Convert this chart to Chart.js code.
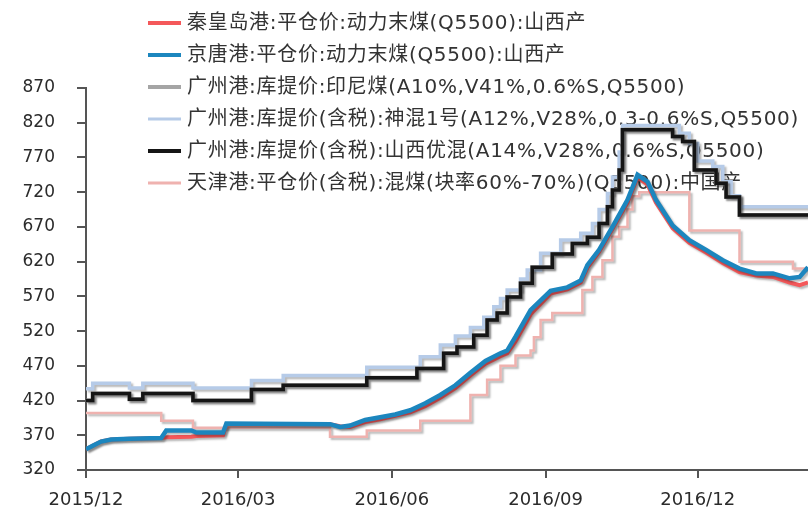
<!DOCTYPE html>
<html><head><meta charset="utf-8">
<script src="https://cdn.jsdelivr.net/npm/chart.js@4/dist/chart.umd.min.js"></script>
<style>html,body{margin:0;padding:0;background:#fff}#wrap{width:808px;height:516px}</style>
</head><body><div id="wrap"><canvas id="c" width="808" height="516"></canvas></div>
<script>
// ---------------- data ----------------
const seriesNames = [
  '秦皇岛港:平仓价:动力末煤(Q5500):山西产',
  '京唐港:平仓价:动力末煤(Q5500):山西产',
  '广州港:库提价:印尼煤(A10%,V41%,0.6%S,Q5500)',
  '广州港:库提价(含税):神混1号(A12%,V28%,0.3-0.6%S,Q5500)',
  '广州港:库提价(含税):山西优混(A14%,V28%,0.6%S,Q5500)',
  '天津港:平仓价(含税):混煤(块率60%-70%)(Q5500):中国产'
];
const xTickDates = ['2015-12-01','2016-03-01','2016-06-01','2016-09-01','2016-12-01'];
const xTickLabels = ['2015/12','2016/03','2016/06','2016/09','2016/12'];
const xStart = '2015-12-01';
const xEnd = '2017-02-05';

// 秦皇岛港 / 京唐港 (weekly observations)
const portDates = ['2015-12-01','2015-12-05','2015-12-10','2015-12-16','2015-12-27','2016-01-15','2016-01-18','2016-02-02','2016-02-05','2016-02-21','2016-02-23','2016-04-25','2016-05-01','2016-05-07','2016-05-16','2016-05-25','2016-06-03','2016-06-12','2016-06-21','2016-06-30','2016-07-09','2016-07-18','2016-07-27','2016-08-05','2016-08-09','2016-08-14','2016-08-23','2016-09-04','2016-09-14','2016-09-22','2016-09-26','2016-10-03','2016-10-11','2016-10-20','2016-10-26','2016-11-01','2016-11-06','2016-11-16','2016-11-26','2016-12-06','2016-12-16','2016-12-26','2017-01-05','2017-01-15','2017-01-25','2017-01-31','2017-02-05'];
const qhdValues = [350,355,361,364,365,366,367,368,369,370,386,386,383,382,389,393,398,403,412,424,438,456,473,484,488,505,544,574,580,590,611,634,667,705,741,731,705,668,647,633,618,605,600,598,590,586,590];
const jtValues  = [350,355,361,364,365,366,377,377,374,374,387,386,382,384,392,396,400,406,416,428,442,460,477,488,492,512,550,578,583,593,615,637,670,709,745,735,709,672,651,637,622,610,603,603,596,598,612];

// 广州港 山西优混 / 印尼煤 (price change dates)
const sxDates = ['2015-12-01','2015-12-05','2015-12-27','2016-01-04','2016-02-03','2016-03-09','2016-03-28','2016-05-17','2016-06-16','2016-07-02','2016-07-10','2016-07-20','2016-07-28','2016-08-03','2016-08-09','2016-08-17','2016-08-24','2016-09-05','2016-09-17','2016-09-26','2016-10-03','2016-10-08','2016-10-11','2016-10-15','2016-10-17','2016-11-16','2016-11-22','2016-11-29','2016-12-12','2016-12-18','2016-12-26','2017-02-05'];
const sxValues   = [420,430,422,430,420,436,442,453,466,488,497,514,536,546,569,589,612,631,646,655,675,699,723,752,810,800,793,752,733,713,687,687];
const indoValues = [420,430,422,430,420,436,442,453,466,488,497,514,536,546,569,589,612,631,646,655,675,699,723,752,810,800,793,752,733,713,687,687];

// 广州港 神混1号
const shDates = ['2015-12-01','2015-12-05','2015-12-27','2016-01-04','2016-02-03','2016-03-09','2016-03-28','2016-05-17','2016-06-18','2016-06-30','2016-07-09','2016-07-18','2016-07-26','2016-08-01','2016-08-05','2016-08-09','2016-08-17','2016-08-21','2016-08-29','2016-09-10','2016-09-22','2016-09-29','2016-10-03','2016-10-08','2016-10-11','2016-10-15','2016-10-17','2016-11-20','2016-11-26','2016-12-01','2016-12-10','2016-12-16','2016-12-21','2016-12-26','2017-02-05'];
const shValues = [437,445,438,445,438,449,456,468,483,500,513,525,540,555,567,579,595,608,632,651,661,675,695,718,742,778,816,805,790,765,757,735,715,699,699];

// 天津港 混煤
const tjDates = ['2015-12-01','2016-01-15','2016-02-03','2016-04-25','2016-05-17','2016-06-18','2016-07-18','2016-07-28','2016-08-05','2016-08-14','2016-08-23','2016-08-25','2016-08-29','2016-09-05','2016-09-23','2016-09-29','2016-10-05','2016-10-11','2016-10-15','2016-10-20','2016-10-23','2016-10-27','2016-11-26','2016-12-26','2017-01-27','2017-02-05'];
const tjValues = [402,391,381,368,377,391,428,450,470,485,492,511,536,546,579,598,622,656,670,695,714,720,665,620,610,610];

// ---------------- helpers ----------------
const DAY0 = Date.UTC(2015, 11, 1);
function toDay(s){ const [y,m,d]=s.split('-').map(Number); return (Date.UTC(y,m-1,d)-DAY0)/86400000; }
function pts(dates, vals){ return dates.map((d,i)=>({x:toDay(d), y:vals[i]})); }

const overlayLegend = {
  id:'overlayLegend',
  beforeDatasetsDraw(chart){
    const ctx = chart.ctx;
    ctx.save();
    ctx.font = '20px "DejaVu Sans", "Noto Sans CJK SC", sans-serif';
    ctx.textBaseline = 'middle';
    ctx.textAlign = 'left';
    if ('letterSpacing' in ctx) ctx.letterSpacing = '0.7px';
    chart.data.datasets.forEach((ds,i)=>{
      const y = 23 + i*32;
      ctx.strokeStyle = ds.borderColor;
      ctx.lineWidth = ds.legendWidth;
      ctx.beginPath(); ctx.moveTo(148,y); ctx.lineTo(181,y); ctx.stroke();
      ctx.fillStyle = '#333333';
      ctx.fillText(ds.label, 187, y+1);
    });
    ctx.restore();
  }
};
const lineShadow = {
  id:'lineShadow',
  beforeDatasetDraw(chart){
    const c = chart.ctx; c.save();
    c.shadowColor='rgba(0,0,0,0.28)'; c.shadowOffsetX=2; c.shadowOffsetY=2; c.shadowBlur=2;
  },
  afterDatasetDraw(chart){ chart.ctx.restore(); }
};

const base = {pointRadius:0, pointHoverRadius:0, tension:0, fill:false};
new Chart(document.getElementById('c'), {
  type:'line',
  data:{ datasets:[
    Object.assign({label:seriesNames[0], data:pts(portDates,qhdValues), borderColor:'#F4585A', borderWidth:4, legendWidth:4, order:2}, base),
    Object.assign({label:seriesNames[1], data:pts(portDates,jtValues), borderColor:'#1C86BE', borderWidth:4.5, legendWidth:4, order:1}, base),
    Object.assign({label:seriesNames[2], data:pts(sxDates,indoValues), borderColor:'#A5A5A5', borderWidth:4, legendWidth:4, order:4, stepped:'before'}, base),
    Object.assign({label:seriesNames[3], data:pts(shDates,shValues), borderColor:'#B6CBE8', borderWidth:3.5, legendWidth:3, order:5, stepped:'before'}, base),
    Object.assign({label:seriesNames[4], data:pts(sxDates,sxValues), borderColor:'#151515', borderWidth:3.5, legendWidth:4, order:3, stepped:'before'}, base),
    Object.assign({label:seriesNames[5], data:pts(tjDates,tjValues), borderColor:'#EFB2AF', borderWidth:2.5, legendWidth:3, order:6, stepped:'before'}, base)
  ]},
  options:{
    responsive:false, animation:false, devicePixelRatio:1,
    layout:{padding:{top:88,right:0,left:0,bottom:0}},
    plugins:{legend:{display:false}, tooltip:{enabled:false}},
    scales:{
      x:{
        type:'linear', min:toDay(xStart), max:toDay(xEnd),
        afterBuildTicks(scale){ scale.ticks = xTickDates.map(d=>({value:toDay(d)})); },
        afterFit(scale){ scale.height = 46; },
        ticks:{ callback:(v,i)=>xTickLabels[i], autoSkip:false, maxRotation:0, padding:12,
                color:'#2b2b2b', font:{family:'"DejaVu Sans", sans-serif', size:18} },
        grid:{ drawOnChartArea:false, drawTicks:true, tickLength:8, color:'#555', lineWidth:2 },
        border:{ display:true, color:'#555', width:2 }
      },
      y:{
        min:320, max:870,
        afterFit(scale){ scale.width = 86; },
        ticks:{ stepSize:50, padding:22, color:'#2b2b2b', font:{family:'"DejaVu Sans", sans-serif', size:17} },
        grid:{ drawOnChartArea:false, drawTicks:true, tickLength:9, color:'#555', lineWidth:2 },
        border:{ display:true, color:'#555', width:2 }
      }
    }
  },
  plugins:[overlayLegend, lineShadow]
});
</script></body></html>
